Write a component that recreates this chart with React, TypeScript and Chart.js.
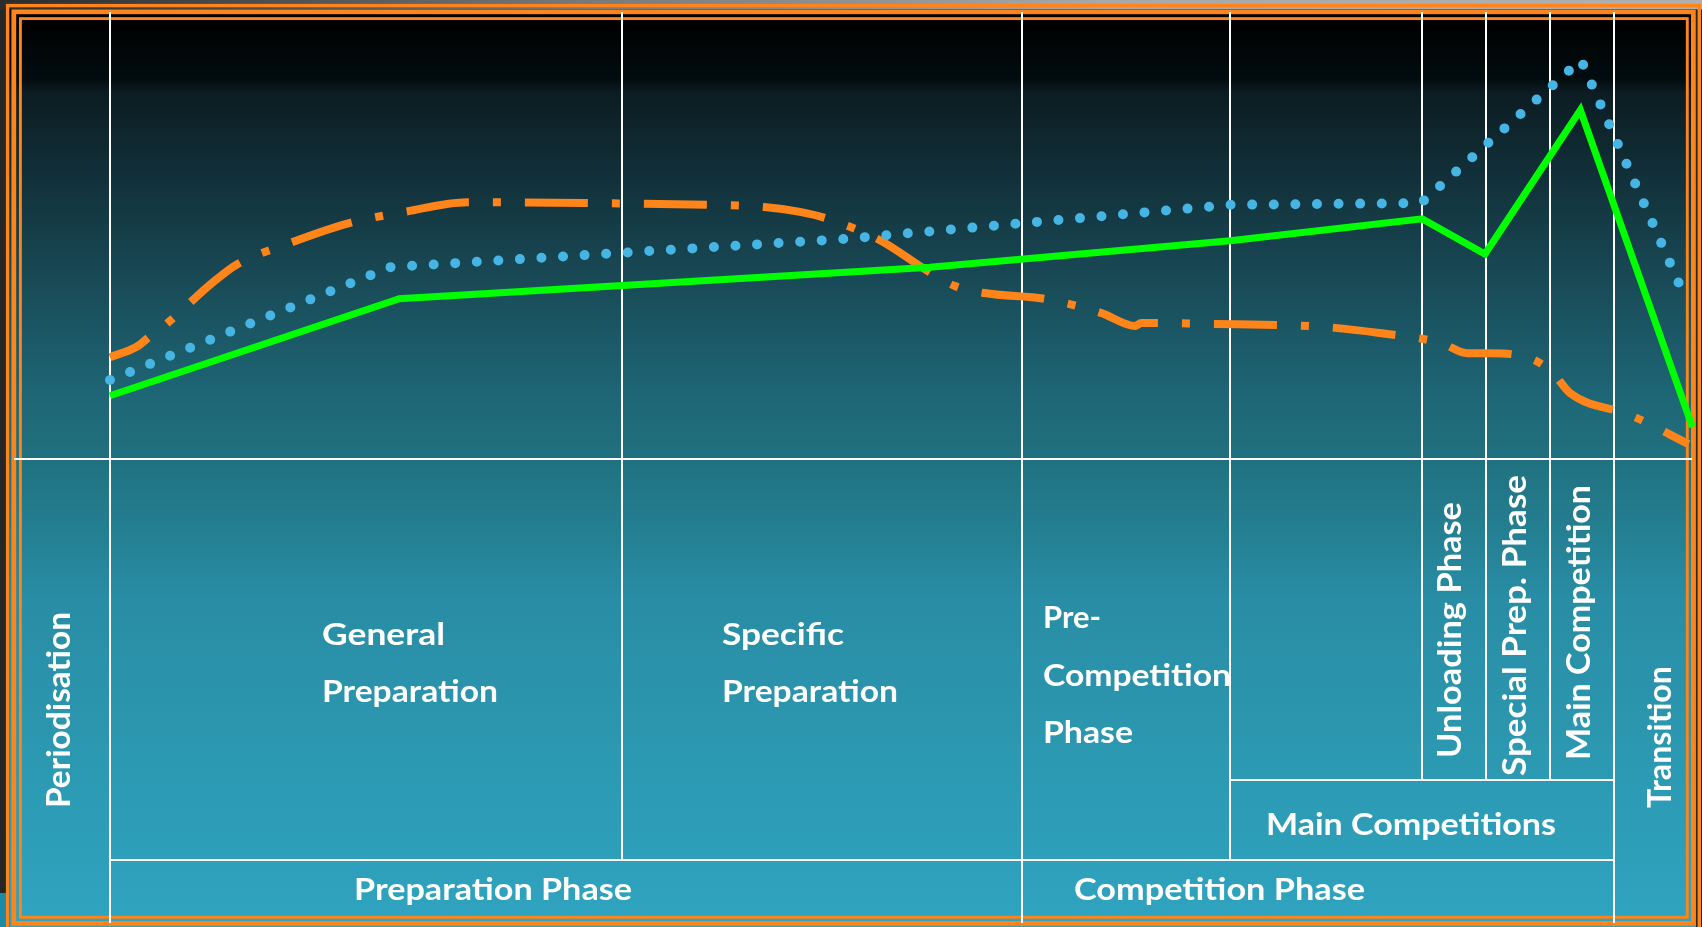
import React, { useEffect, useRef } from "react";
import { Chart, registerables } from "chart.js";

Chart.register(...registerables);

// ---- data (x in weeks of the macrocycle, y in % of load) ----
const phaseBoundaries = [0, 8, 14.25, 17.5, 20.5, 21.5, 22.5, 23.5];
const cycleEnd = 24.73;

const volumeWeeks = [0, 0.41, 0.63, 0.8, 1.63, 1.97, 2.81, 3.75, 4.61, 5.58, 7.45, 9.33, 10.22, 10.78, 11.17, 12.02, 12.8, 13.2, 13.66, 14.63, 15.48, 16.02, 16.11, 17.08, 18.95, 19.83, 20.8, 21.2, 21.53, 22.17, 22.53, 22.81, 23.75, 24.66];
const volumeValues = [23.2, 25.5, 28.0, 29.8, 40.5, 44.2, 49.2, 53.8, 56.3, 58.5, 58.3, 57.9, 57.4, 56.3, 54.9, 49.9, 42.6, 39.4, 37.8, 36.4, 33.3, 30.3, 31.0, 30.8, 30.1, 28.7, 26.4, 24.1, 24.1, 23.0, 19.8, 15.0, 10.0, 3.4];

const intensityWeeks = [0, 4.52, 12.81, 17.5, 20.5, 21.48, 22.97, 24.72];
const intensityValues = [14.4, 36.5, 43.7, 49.7, 54.7, 46.7, 79.5, 7.3];

const performanceWeeks = [0, 4.38, 11.45, 17.5, 20.48, 22.98, 24.61];
const performanceValues = [18.0, 43.7, 50.1, 57.9, 58.3, 90.9, 36.7];

const horizontalLabels = ["General", "Preparation", "Specific", "Preparation", "Pre-", "Competition", "Phase", "Main Competitions", "Preparation Phase", "Competition Phase"];
const verticalLabels = ["Periodisation", "Unloading Phase", "Special Prep. Phase", "Main Competition", "Transition"];

// ---- styling / layout ----
const W = 1702;
const H = 927;
const ORANGE = "#ff8419";
const GREEN = "#00ff00";
const BLUE = "#46b5e3";
const FONT = "Lato, 'Open Sans', sans-serif";

// x, baseline y, target width, font size
const hPos: [number, number, number, number][] = [
  [322, 645, 123, 31],
  [322, 702, 176, 31],
  [722, 645, 122, 31],
  [722, 702, 176, 31],
  [1043, 628, 58, 31],
  [1043, 686, 188, 31],
  [1043, 743, 90, 31],
  [1266, 835, 290, 31],
  [354, 900, 278, 31],
  [1074, 900, 291, 31],
];
// baseline x, start y (bottom), target length, font size
const vPos: [number, number, number, number][] = [
  [70, 808, 196, 32],
  [1461, 758, 256, 32],
  [1526, 776, 301, 32],
  [1590, 760, 275, 32],
  [1671, 808, 142, 32],
];

function drawStretched(ctx: CanvasRenderingContext2D, text: string, x: number, y: number, width: number, size: number, rotate: boolean) {
  ctx.save();
  ctx.font = `bold ${size}px ${FONT}`;
  ctx.fillStyle = "#ffffff";
  ctx.textBaseline = "alphabetic";
  ctx.textAlign = "left";
  const w = ctx.measureText(text).width;
  ctx.translate(x, y);
  if (rotate) ctx.rotate(-Math.PI / 2);
  ctx.scale(width / w, 1);
  ctx.fillText(text, 0, 0);
  ctx.restore();
}

const backgroundPlugin = {
  id: "slideBackground",
  beforeDraw(chart: any) {
    const ctx: CanvasRenderingContext2D = chart.ctx;
    ctx.save();
    ctx.fillStyle = "#262626";
    ctx.fillRect(0, 0, W, H);
    const top = ctx.createLinearGradient(0, 0, W, 0);
    top.addColorStop(0, "#2c2c2c");
    top.addColorStop(0.35, "#7a7a7a");
    top.addColorStop(0.65, "#a8a8a8");
    top.addColorStop(1, "#b0b0b0");
    ctx.fillStyle = top;
    ctx.fillRect(0, 0, W, 9.3);
    ctx.fillStyle = "#1c8aa6";
    ctx.fillRect(0, 893, 7, H - 893);

    const g = ctx.createLinearGradient(0, 0, 0, H);
    const stops: [number, string][] = [
      [0, "#000000"], [20, "#000000"], [80, "#020d10"], [92, "#0c1c22"], [180, "#12313a"],
      [300, "#1a4f5c"], [400, "#1e6777"], [459, "#20717f"], [600, "#288da5"], [720, "#2b96ae"],
      [916, "#2fa3bf"], [927, "#2fa3bf"],
    ];
    stops.forEach(([y, c]) => g.addColorStop(y / H, c));
    ctx.fillStyle = g;
    ctx.fillRect(9.3, 9.3, 1696 - 9.3, H - 9.3);

    ctx.strokeStyle = ORANGE;
    ctx.lineWidth = 3.4;
    ctx.strokeRect(7.6, 5.6, 1699.3 - 7.6, 940 - 5.6);
    ctx.lineWidth = 4.8;
    ctx.strokeRect(13.8, 11.8, 1693.4 - 13.8, 923.4 - 11.8);
    ctx.lineWidth = 2.9;
    ctx.strokeRect(20.4, 18.6, 1687.3 - 20.4, 917.3 - 18.6);
    ctx.restore();
  },
  beforeDatasetsDraw(chart: any) {
    const ctx: CanvasRenderingContext2D = chart.ctx;
    const xs = chart.scales.x;
    const area = chart.chartArea;
    const px = (w: number) => xs.getPixelForValue(w);
    const bottoms = [923, 860, 923, 860, 780, 780, 780, 923];
    ctx.save();
    ctx.strokeStyle = "#ffffff";
    ctx.lineWidth = 2;
    ctx.beginPath();
    phaseBoundaries.forEach((b, i) => {
      const x = Math.round(px(b));
      ctx.moveTo(x, 12);
      ctx.lineTo(x, bottoms[i]);
    });
    ctx.moveTo(14, area.bottom);
    ctx.lineTo(1692, area.bottom);
    ctx.moveTo(px(phaseBoundaries[0]), 860);
    ctx.lineTo(px(phaseBoundaries[7]), 860);
    ctx.moveTo(px(phaseBoundaries[3]), 780);
    ctx.lineTo(px(phaseBoundaries[7]), 780);
    ctx.stroke();

    horizontalLabels.forEach((t, i) => {
      const [x, y, w, s] = hPos[i];
      drawStretched(ctx, t, x, y, w, s, false);
    });
    verticalLabels.forEach((t, i) => {
      const [x, y, w, s] = vPos[i];
      drawStretched(ctx, t, x, y, w, s, true);
    });
    ctx.restore();
  },
};

export default function App() {
  const ref = useRef<HTMLCanvasElement>(null);
  useEffect(() => {
    document.body.style.margin = "0";
    document.body.style.overflow = "hidden";
    const canvas = ref.current!;
    const chart = new Chart(canvas, {
      type: "line",
      data: {
        datasets: [
          {
            label: "Performance",
            data: performanceWeeks.map((x, i) => ({ x, y: performanceValues[i] })),
            borderColor: BLUE,
            borderWidth: 10,
            borderDash: [0, 21.6],
            borderCapStyle: "round",
            pointRadius: 0,
            tension: 0,
            fill: false,
            clip: false,
          },
          {
            label: "Intensity",
            data: intensityWeeks.map((x, i) => ({ x, y: intensityValues[i] })),
            borderColor: GREEN,
            borderWidth: 7,
            borderJoinStyle: "miter",
            pointRadius: 0,
            tension: 0,
            fill: false,
            clip: false,
          },
          {
            label: "Volume",
            data: volumeWeeks.map((x, i) => ({ x, y: volumeValues[i] })),
            borderColor: ORANGE,
            borderWidth: 8,
            borderDash: [63, 24, 8, 24],
            borderDashOffset: 20,
            borderCapStyle: "butt",
            pointRadius: 0,
            cubicInterpolationMode: "monotone",
            fill: false,
            clip: false,
          },
        ] as any,
      },
      options: {
        responsive: false,
        animation: false,
        devicePixelRatio: 1,
        events: [],
        layout: { padding: { left: 110, right: W - 1693, top: 20, bottom: H - 459 } },
        scales: {
          x: { type: "linear", min: 0, max: cycleEnd, display: false },
          y: { type: "linear", min: 0, max: 100, display: false },
        },
        plugins: { legend: { display: false }, tooltip: { enabled: false } },
      },
      plugins: [backgroundPlugin],
    });
    return () => chart.destroy();
  }, []);
  return <canvas ref={ref} width={W} height={H} style={{ display: "block", width: W + "px", height: H + "px" }} />;
}
